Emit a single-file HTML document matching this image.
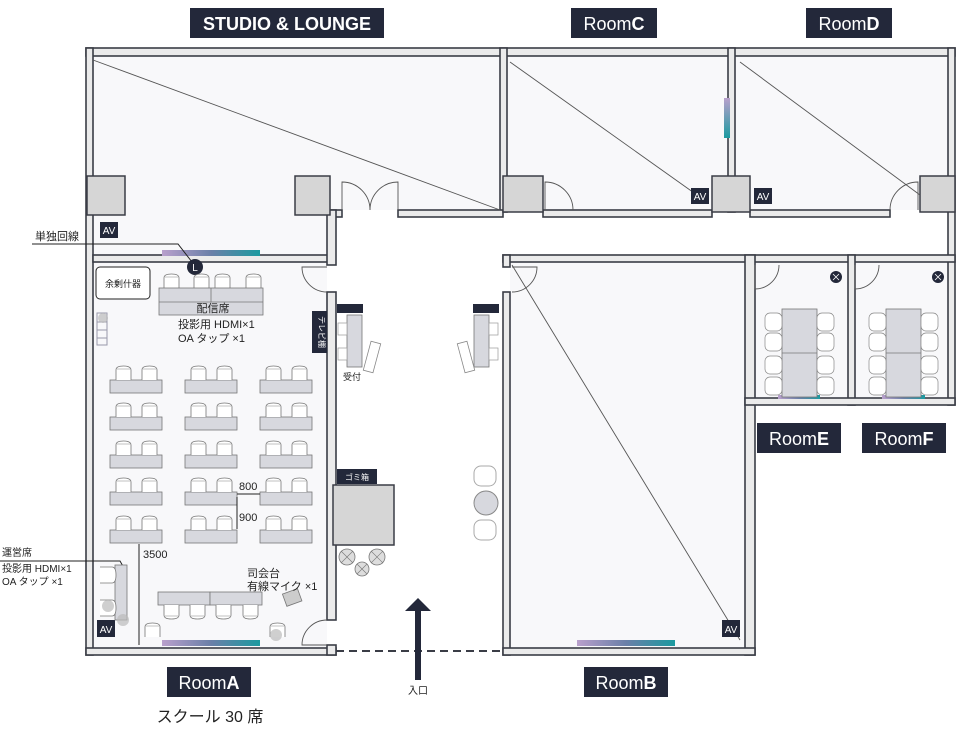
<!DOCTYPE html>
<html><head><meta charset="utf-8"><style>
body{margin:0;background:#fff;}
svg{display:block;font-family:"Liberation Sans","Noto Sans CJK JP",sans-serif;}
</style></head><body>
<svg width="960" height="730" viewBox="0 0 960 730" xmlns="http://www.w3.org/2000/svg">
<defs>
<linearGradient id="g" x1="0" x2="1"><stop offset="0" stop-color="#b9a0cc"/><stop offset="0.5" stop-color="#6a7fa8"/><stop offset="1" stop-color="#1b9aa0"/></linearGradient>
<linearGradient id="gv" x1="0" y1="0" x2="0" y2="1"><stop offset="0" stop-color="#b9a0cc"/><stop offset="1" stop-color="#1b9aa0"/></linearGradient>
<g id="ch"><path d="M0,14 V4 Q0,0 7.5,0 Q15,0 15,4 V14" fill="#fff" stroke="#777" stroke-width="0.8"/><line x1="1" y1="3" x2="14" y2="3" stroke="#999" stroke-width="0.6"/></g>
<g id="desk"><rect x="0" y="0" width="52" height="13" fill="#d7d8de" stroke="#777" stroke-width="0.8"/><use href="#ch" x="6" y="-14"/><use href="#ch" x="32" y="-14"/></g>
<g id="chs"><path d="M0,0 H12 Q16,0 16,8 Q16,16 12,16 H0" fill="#fff" stroke="#777" stroke-width="0.8"/></g>
</defs>

<!-- room fills -->
<rect x="93" y="57" width="408" height="153" fill="#f8f8fa"/>
<rect x="93" y="57" width="237" height="198" fill="#f8f8fa"/>
<rect x="507" y="57" width="221" height="153" fill="#f8f8fa"/>
<rect x="735" y="57" width="213" height="153" fill="#f8f8fa"/>
<rect x="93" y="262" width="234" height="386" fill="#f8f8fa"/>
<rect x="510" y="262" width="235" height="386" fill="#f8f8fa"/>
<rect x="755" y="262" width="93" height="136" fill="#f8f8fa"/>
<rect x="855" y="262" width="93" height="136" fill="#f8f8fa"/>

<!-- walls -->
<g fill="#ebebeb" stroke="#3a3d46" stroke-width="1.6">
<rect x="86" y="48" width="869" height="8"/>
<rect x="86" y="48" width="7" height="607"/>
<rect x="86" y="648" width="250" height="7"/>
<rect x="500" y="48" width="7" height="164"/>
<rect x="728" y="48" width="7" height="164"/>
<rect x="948" y="48" width="7" height="357"/>
<rect x="398" y="210" width="105" height="7"/>
<rect x="330" y="210" width="12" height="7"/>
<rect x="543" y="210" width="169" height="7"/>
<rect x="750" y="210" width="140" height="7"/>
<rect x="93" y="255" width="237" height="7"/>
<rect x="327" y="210" width="9" height="55"/>
<rect x="327" y="292" width="9" height="328"/>
<rect x="327" y="645" width="9" height="10"/>
<rect x="503" y="255" width="452" height="7"/>
<rect x="503" y="255" width="7" height="12"/>
<rect x="503" y="292" width="7" height="363"/>
<rect x="745" y="255" width="10" height="400"/>
<rect x="503" y="648" width="252" height="7"/>
<rect x="848" y="255" width="7" height="150"/>
<rect x="745" y="398" width="210" height="7"/>
</g>
<!-- entrance -->
<line x1="336" y1="651" x2="503" y2="651" stroke="#3a3d46" stroke-width="2" stroke-dasharray="8,5"/>
<!-- pillars -->
<g fill="#d6d6d6" stroke="#3a3d46" stroke-width="1.5">
<rect x="87" y="176" width="38" height="39"/>
<rect x="295" y="176" width="35" height="39"/>
<rect x="503" y="176" width="40" height="36"/>
<rect x="712" y="176" width="38" height="36"/>
<rect x="920" y="176" width="35" height="36"/>
<rect x="333" y="485" width="61" height="60"/>
</g>
<!-- diagonals -->
<g stroke="#555" stroke-width="0.9">
<line x1="93" y1="60" x2="500" y2="210"/>
<line x1="510" y1="62" x2="697" y2="195"/>
<line x1="740" y1="62" x2="920" y2="195"/>
<line x1="512" y1="265" x2="740" y2="640"/>
</g>
<!-- doors -->
<g fill="none" stroke="#555" stroke-width="0.9">
<path d="M342,210 V182 A28,28 0 0 1 370,210"/><path d="M398,210 V182 A28,28 0 0 0 370,210"/>
<path d="M545,210 V182 A28,28 0 0 1 573,210"/>
<path d="M918,210 V182 A28,28 0 0 0 890,210"/>
<path d="M327,267 H302 A25,25 0 0 0 327,292"/>
<path d="M327,645 H302 A25,25 0 0 1 327,620"/>
<path d="M512,267 H537 A25,25 0 0 1 512,292"/>
<path d="M755,265 V289 A24,24 0 0 0 779,265"/>
<path d="M855,265 V289 A24,24 0 0 0 879,265"/>
</g>
<!-- gradient bars -->
<rect x="162" y="250" width="98" height="6" fill="url(#g)"/>
<rect x="162" y="640" width="98" height="6" fill="url(#g)"/>
<rect x="577" y="640" width="98" height="6" fill="url(#g)"/>
<rect x="724" y="98" width="6" height="40" fill="url(#gv)"/>
<rect x="778" y="395" width="42" height="4" fill="url(#g)"/>
<rect x="882" y="395" width="43" height="4" fill="url(#g)"/>

<!-- AV boxes -->
<g fill="#23283a"><rect x="100" y="222" width="18" height="16"/><rect x="691" y="188" width="18" height="16"/><rect x="754" y="188" width="18" height="16"/><rect x="97" y="620" width="18" height="17"/><rect x="722" y="620" width="18" height="17"/></g>
<g fill="#fff" font-size="10" text-anchor="middle"><text x="109" y="234">AV</text><text x="700" y="200">AV</text><text x="763" y="200">AV</text><text x="106" y="633">AV</text><text x="731" y="633">AV</text></g>

<!-- 単独回線 -->
<text x="35" y="240" font-size="11" fill="#222">単独回線</text>
<path d="M32,244 H178 L192,262" fill="none" stroke="#222" stroke-width="1"/>
<circle cx="195" cy="267" r="8" fill="#23283a"/><text x="195" y="271" font-size="10" fill="#fff" text-anchor="middle">L</text>

<!-- 余剰什器 -->
<rect x="96" y="267" width="54" height="32" rx="4" fill="#fff" stroke="#222" stroke-width="1"/>
<text x="123" y="287" font-size="9" fill="#222" text-anchor="middle">余剰什器</text>
<g stroke="#99a" stroke-width="1" fill="none"><rect x="97" y="313" width="10" height="32"/><line x1="97" y1="322" x2="107" y2="322"/><line x1="97" y1="330" x2="107" y2="330"/><line x1="97" y1="338" x2="107" y2="338"/></g>
<circle cx="103" cy="318" r="5" fill="#bbb" opacity=".7"/>

<!-- 配信席 -->
<use href="#ch" x="164" y="274"/><use href="#ch" x="194" y="274"/><use href="#ch" x="215" y="274"/><use href="#ch" x="246" y="274"/>
<rect x="159" y="288" width="104" height="27" fill="#d7d8de" stroke="#777" stroke-width="0.8"/>
<line x1="159" y1="302" x2="263" y2="302" stroke="#777" stroke-width="0.8"/><line x1="211" y1="288" x2="211" y2="302" stroke="#777" stroke-width="0.8"/>
<text x="213" y="312" font-size="11" fill="#222" text-anchor="middle">配信席</text>
<text x="178" y="328" font-size="11" fill="#222">投影用 HDMI×1</text>
<text x="178" y="342" font-size="11" fill="#222">OA タップ ×1</text>

<!-- desks grid -->
<g>
<use href="#desk" x="110" y="380"/><use href="#desk" x="185" y="380"/><use href="#desk" x="260" y="380"/>
<use href="#desk" x="110" y="417"/><use href="#desk" x="185" y="417"/><use href="#desk" x="260" y="417"/>
<use href="#desk" x="110" y="455"/><use href="#desk" x="185" y="455"/><use href="#desk" x="260" y="455"/>
<use href="#desk" x="110" y="492"/><use href="#desk" x="185" y="492"/><use href="#desk" x="260" y="492"/>
<use href="#desk" x="110" y="530"/><use href="#desk" x="185" y="530"/><use href="#desk" x="260" y="530"/>
</g>
<g stroke="#222" stroke-width="1"><line x1="237" y1="494" x2="260" y2="494"/><line x1="237" y1="497" x2="237" y2="529"/><line x1="139" y1="544" x2="139" y2="645"/></g>
<g font-size="11" fill="#222"><text x="239" y="490">800</text><text x="239" y="521">900</text><text x="143" y="558">3500</text></g>

<!-- 運営席 -->
<text x="2" y="556" font-size="10" fill="#222">運営席</text>
<text x="2" y="572" font-size="10" fill="#222">投影用 HDMI×1</text>
<text x="2" y="585" font-size="10" fill="#222">OA タップ ×1</text>
<path d="M0,561 H120 L124,568" fill="none" stroke="#222" stroke-width="1"/>
<rect x="115" y="565" width="12" height="55" fill="#d7d8de" stroke="#777" stroke-width="0.8"/>
<use href="#chs" x="100" y="567"/><use href="#chs" x="100" y="600"/>
<circle cx="108" cy="606" r="6" fill="#bbb" opacity=".7"/><circle cx="123" cy="620" r="6" fill="#bbb" opacity=".7"/>

<!-- bottom desk -->
<rect x="158" y="592" width="52" height="13" fill="#d7d8de" stroke="#777" stroke-width="0.8"/>
<rect x="210" y="592" width="52" height="13" fill="#d7d8de" stroke="#777" stroke-width="0.8"/>
<g transform="translate(0,619) scale(1,-1)"><use href="#ch" x="164" y="0"/><use href="#ch" x="190" y="0"/><use href="#ch" x="216" y="0"/><use href="#ch" x="243" y="0"/></g>
<use href="#ch" x="145" y="623"/><use href="#ch" x="270" y="623"/>
<circle cx="276" cy="635" r="6" fill="#bbb" opacity=".7"/>
<rect x="284" y="591" width="16" height="13" fill="#ccc" stroke="#777" stroke-width="0.8" transform="rotate(-20 292 597)"/>
<text x="247" y="577" font-size="11" fill="#222">司会台</text>
<text x="247" y="590" font-size="11" fill="#222">有線マイク ×1</text>

<!-- テレビ label -->
<rect x="312" y="311" width="15" height="42" fill="#23283a"/>
<text x="319" y="332" font-size="8" fill="#fff" text-anchor="middle" transform="rotate(90 319 332)">テレビ棚</text>

<!-- reception -->
<rect x="337" y="304" width="26" height="9" fill="#23283a"/><rect x="473" y="304" width="26" height="9" fill="#23283a"/>
<rect x="347" y="315" width="15" height="52" fill="#d7d8de" stroke="#777" stroke-width="0.8"/>
<rect x="474" y="315" width="15" height="52" fill="#d7d8de" stroke="#777" stroke-width="0.8"/>
<g fill="#fff" stroke="#999" stroke-width="0.7"><rect x="338" y="323" width="9" height="12"/><rect x="338" y="348" width="9" height="12"/><rect x="489" y="323" width="9" height="12"/><rect x="489" y="348" width="9" height="12"/></g>
<rect x="367" y="342" width="10" height="30" fill="#fff" stroke="#888" stroke-width="0.8" transform="rotate(15 372 357)"/>
<rect x="461" y="342" width="10" height="30" fill="#fff" stroke="#888" stroke-width="0.8" transform="rotate(-15 466 357)"/>
<text x="343" y="380" font-size="9" fill="#222">受付</text>

<!-- gomi -->
<rect x="337" y="469" width="40" height="15" fill="#23283a"/><text x="357" y="480" font-size="8" fill="#fff" text-anchor="middle">ゴミ箱</text>
<g fill="#ddd" stroke="#777" stroke-width="0.8"><circle cx="347" cy="557" r="8"/><circle cx="377" cy="557" r="8"/><circle cx="362" cy="569" r="7"/></g>
<g stroke="#777" stroke-width="0.6"><path d="M341,551 L353,563 M353,551 L341,563 M371,551 L383,563 M383,551 L371,563 M357,564 L367,574 M367,564 L357,574"/></g>
<!-- lounge chairs right -->
<rect x="474" y="466" width="22" height="20" rx="7" fill="#fff" stroke="#aaa"/>
<circle cx="486" cy="503" r="12" fill="#d7d8de" stroke="#888"/>
<rect x="474" y="520" width="22" height="20" rx="7" fill="#fff" stroke="#aaa"/>

<!-- arrow -->
<rect x="415" y="610" width="6" height="70" fill="#23283a"/>
<polygon points="405,611 418,598 431,611" fill="#23283a"/>
<text x="418" y="694" font-size="10" fill="#222" text-anchor="middle">入口</text>

<!-- E/F tables -->
<g>
<rect x="782" y="309" width="35" height="88" fill="#d7d8de" stroke="#777" stroke-width="0.8"/><line x1="782" y1="353" x2="817" y2="353" stroke="#777" stroke-width="0.8"/>
<rect x="886" y="309" width="35" height="88" fill="#d7d8de" stroke="#777" stroke-width="0.8"/><line x1="886" y1="353" x2="921" y2="353" stroke="#777" stroke-width="0.8"/>
<g fill="#fff" stroke="#888" stroke-width="0.7">
<rect x="765" y="313" width="17" height="18" rx="5"/><rect x="765" y="333" width="17" height="18" rx="5"/><rect x="765" y="356" width="17" height="18" rx="5"/><rect x="765" y="377" width="17" height="18" rx="5"/>
<rect x="817" y="313" width="17" height="18" rx="5"/><rect x="817" y="333" width="17" height="18" rx="5"/><rect x="817" y="356" width="17" height="18" rx="5"/><rect x="817" y="377" width="17" height="18" rx="5"/>
<rect x="869" y="313" width="17" height="18" rx="5"/><rect x="869" y="333" width="17" height="18" rx="5"/><rect x="869" y="356" width="17" height="18" rx="5"/><rect x="869" y="377" width="17" height="18" rx="5"/>
<rect x="921" y="313" width="17" height="18" rx="5"/><rect x="921" y="333" width="17" height="18" rx="5"/><rect x="921" y="356" width="17" height="18" rx="5"/><rect x="921" y="377" width="17" height="18" rx="5"/>
</g>
<circle cx="836" cy="277" r="6" fill="#23283a"/><circle cx="938" cy="277" r="6" fill="#23283a"/>
<g stroke="#fff" stroke-width="0.8"><path d="M833,274 L839,280 M839,274 L833,280 M935,274 L941,280 M941,274 L935,280"/></g>
</g>

<!-- labels -->
<g fill="#23283a">
<rect x="190" y="8" width="194" height="30"/><rect x="571" y="8" width="86" height="30"/><rect x="806" y="8" width="86" height="30"/>
<rect x="757" y="423" width="84" height="30"/><rect x="862" y="423" width="84" height="30"/>
<rect x="167" y="667" width="84" height="30"/><rect x="584" y="667" width="84" height="30"/>
</g>
<g fill="#fff" font-size="18" text-anchor="middle">
<text x="287" y="30" font-weight="bold">STUDIO &amp; LOUNGE</text>
<text x="614" y="30">Room<tspan font-weight="bold">C</tspan></text>
<text x="849" y="30">Room<tspan font-weight="bold">D</tspan></text>
<text x="799" y="445">Room<tspan font-weight="bold">E</tspan></text>
<text x="904" y="445">Room<tspan font-weight="bold">F</tspan></text>
<text x="209" y="689">Room<tspan font-weight="bold">A</tspan></text>
<text x="626" y="689">Room<tspan font-weight="bold">B</tspan></text>
</g>
<text x="210" y="722" font-size="16" fill="#222" text-anchor="middle">スクール 30 席</text>
</svg>
</body></html>
